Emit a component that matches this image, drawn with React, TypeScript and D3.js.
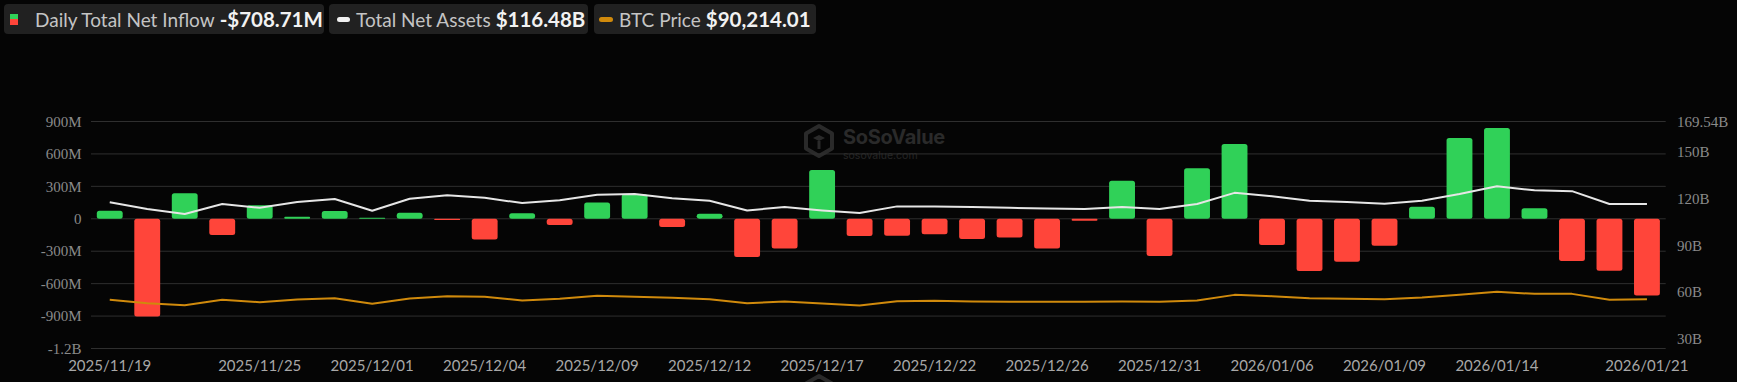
import React, { useEffect } from "react";
import * as d3 from "d3";

const dates = [
  "2025/11/19", "2025/11/20", "2025/11/21", "2025/11/24", "2025/11/25", "2025/11/26", "2025/11/28",
  "2025/12/01", "2025/12/02", "2025/12/03", "2025/12/04", "2025/12/05", "2025/12/08", "2025/12/09",
  "2025/12/10", "2025/12/11", "2025/12/12", "2025/12/15", "2025/12/16", "2025/12/17", "2025/12/18",
  "2025/12/19", "2025/12/22", "2025/12/23", "2025/12/24", "2025/12/26", "2025/12/29", "2025/12/30",
  "2025/12/31", "2026/01/02", "2026/01/05", "2026/01/06", "2026/01/07", "2026/01/08", "2026/01/09",
  "2026/01/12", "2026/01/13", "2026/01/14", "2026/01/15", "2026/01/16", "2026/01/20", "2026/01/21",
];

// Daily total net inflow, millions USD
const netInflow = [
  74, -903, 237, -151, 126, 18, 71, 9, 55, -12,
  -191, 52, -58, 151, 228, -77, 46, -354, -274, 452,
  -160, -157, -142, -188, -172, -274, -19, 351, -345, 468,
  692, -243, -483, -397, -249, 111, 748, 840, 98, -391,
  -480, -708.71,
];

// Total net assets, billions USD
const totalNetAssets = [
  117.6, 113.3, 110.1, 116.5, 114.1, 117.8, 119.7, 112.2, 119.9, 122.2,
  120.5, 117.1, 118.9, 122.5, 122.9, 120.3, 118.6, 112.4, 114.6, 112.4,
  110.7, 115.0, 115.0, 114.6, 114.1, 113.7, 113.3, 114.6, 113.3, 116.5,
  123.7, 121.5, 118.6, 117.8, 116.7, 118.6, 122.9, 128.0, 125.3, 124.8,
  116.5, 116.48,
];

// BTC price, USD
const btcPrice = [
  89560, 86470, 84610, 89560, 87410, 89840, 91150, 85820, 90770, 93020,
  92500, 88900, 90490, 93300, 92360, 91430, 90210, 86470, 87970, 86100,
  84230, 88350, 88620, 87970, 87690, 87690, 87690, 87970, 87690, 88900,
  94230, 93000, 91150, 90490, 90210, 91710, 94230, 97040, 95170, 95170,
  89560, 90214.01,
];

const xTickLabels = [
  "2025/11/19", "2025/11/25", "2025/12/01", "2025/12/04", "2025/12/09", "2025/12/12", "2025/12/17",
  "2025/12/22", "2025/12/26", "2025/12/31", "2026/01/06", "2026/01/09", "2026/01/14", "2026/01/21",
];

const leftTicks = [900, 600, 300, 0, -300, -600, -900, -1200];
const leftTickLabels = ["900M", "600M", "300M", "0", "-300M", "-600M", "-900M", "-1.2B"];
const rightTicks = [169.54, 150, 120, 90, 60, 30];
const rightTickLabels = ["169.54B", "150B", "120B", "90B", "60B", "30B"];

const legendItems = [
  { label: "Daily Total Net Inflow", value: "-$708.71M" },
  { label: "Total Net Assets", value: "$116.48B" },
  { label: "BTC Price", value: "$90,214.01" },
];

const W = 1737;
const H = 382;
const PLOT_L = 91;
const PLOT_R = 1665.7;
const PLOT_T = 121.5;
const PLOT_B = 348.5;

const GREEN = "#30d158";
const RED = "#ff453a";
const WHITE_LINE = "#e6e6e6";
const ORANGE = "#d08a0c";

function LogoMark({ dy }: { dy: number }) {
  const cx = 819;
  const cy = 141 + dy;
  const r = 15;
  const hex = d3.range(6).map((k) => {
    const a = (Math.PI / 3) * k - Math.PI / 2;
    return [cx + r * Math.cos(a), cy + r * Math.sin(a)];
  });
  return (
    <g>
      <polygon points={hex.map((p) => p.join(",")).join(" ")} fill="none" stroke="#2a2a2a" strokeWidth={4} strokeLinejoin="round" />
      <path d={`M${cx - 6},${cy - 3} L${cx},${cy - 6} L${cx + 6},${cy - 3} L${cx},${cy} Z`} fill="#2a2a2a" />
      <path d={`M${cx},${cy} L${cx},${cy + 8}`} stroke="#2a2a2a" strokeWidth={3} />
    </g>
  );
}

export default function App() {
  useEffect(() => {
    document.body.style.margin = "0";
    document.body.style.background = "#050505";
  }, []);

  const x = d3
    .scaleBand<string>()
    .domain(dates)
    .range([PLOT_L, PLOT_R])
    .paddingInner(0.31)
    .paddingOuter(0.155);
  const cxOf = (d: string) => (x(d) as number) + x.bandwidth() / 2;

  const yLeft = d3.scaleLinear().domain([-1200, 900]).range([PLOT_B, PLOT_T]);
  const yRight = d3.scaleLinear().domain([23.68, 169.54]).range([PLOT_B, PLOT_T]);
  const yBtc = d3.scaleLinear().domain([44000, 256600]).range([PLOT_B, PLOT_T]);

  const assetsLine = d3
    .line<number>()
    .x((_, i) => cxOf(dates[i]))
    .y((v) => yRight(v));
  const btcLine = d3
    .line<number>()
    .x((_, i) => cxOf(dates[i]))
    .y((v) => yBtc(v));

  const legendBoxes = [
    { x: 4, w: 320 },
    { x: 329, w: 259 },
    { x: 594, w: 222 },
  ];

  return (
    <svg width={W} height={H} style={{ display: "block", background: "#050505" }}>
      <rect x={0} y={0} width={W} height={H} fill="#050505" />

      {/* legend */}
      {legendItems.map((it, k) => {
        const b = legendBoxes[k];
        const textX = k === 0 ? 35 : k === 1 ? b.x + 27 : b.x + 25;
        return (
          <g key={it.label}>
            <rect x={b.x} y={4} width={b.w} height={30} rx={4} fill="#212121" />
            {k === 0 && (
              <g>
                <rect x={10} y={14} width={8} height={5} fill={GREEN} />
                <rect x={10} y={19} width={8} height={6} fill={RED} />
              </g>
            )}
            {k === 1 && <rect x={b.x + 8} y={17} width={13} height={5} rx={2.5} fill="#f0f0f0" />}
            {k === 2 && <rect x={b.x + 5} y={17} width={14} height={5} rx={2.5} fill={ORANGE} />}
            <text x={textX} y={26.5} fontFamily="Lato, sans-serif" fontSize={19} fill="#c4c4c4">
              {it.label}
              <tspan dx={5} fontWeight={700} fontSize={20.5} fill="#f2f2f2">
                {it.value}
              </tspan>
            </text>
          </g>
        );
      })}

      {/* watermarks */}
      <LogoMark dy={0} />
      <text x={843} y={144} fontFamily="Inter, 'Noto Sans', sans-serif" fontWeight={700} fontSize={20} fill="#2a2a2a" letterSpacing={-0.3}>
        SoSoValue
      </text>
      <text x={843} y={159} fontFamily="Inter, 'Noto Sans', sans-serif" fontSize={10.5} fill="#262626">
        sosovalue.com
      </text>
      <LogoMark dy={250} />

      {/* grid */}
      {leftTicks.map((t) => (
        <line key={t} x1={PLOT_L} x2={PLOT_R} y1={yLeft(t)} y2={yLeft(t)} stroke="#2f2f2f" strokeWidth={1} />
      ))}

      {/* left axis labels */}
      {leftTicks.map((t, i) => (
        <text
          key={"l" + t}
          x={81.5}
          y={yLeft(t)}
          dy="0.35em"
          textAnchor="end"
          fontFamily="'Liberation Serif', serif"
          fontSize={15}
          fill="#8a8a8a"
        >
          {leftTickLabels[i]}
        </text>
      ))}

      {/* right axis labels */}
      {rightTicks.map((t, i) => (
        <text
          key={"r" + t}
          x={1677}
          y={yRight(t)}
          dy="0.35em"
          textAnchor="start"
          fontFamily="'Liberation Serif', serif"
          fontSize={15}
          fill="#8a8a8a"
        >
          {rightTickLabels[i]}
        </text>
      ))}

      {/* bars */}
      {netInflow.map((v, i) => {
        const y0 = yLeft(0);
        const y1 = yLeft(v);
        const top = Math.min(y0, y1);
        const h = Math.max(1, Math.abs(y1 - y0));
        return (
          <rect
            key={dates[i]}
            x={x(dates[i])}
            y={top}
            width={x.bandwidth()}
            height={h}
            rx={Math.min(2.5, h / 2)}
            fill={v >= 0 ? GREEN : RED}
          />
        );
      })}

      {/* lines */}
      <path d={btcLine(btcPrice) || ""} fill="none" stroke={ORANGE} strokeWidth={2} strokeLinejoin="round" />
      <path d={assetsLine(totalNetAssets) || ""} fill="none" stroke={WHITE_LINE} strokeWidth={2} strokeLinejoin="round" />

      {/* x axis labels */}
      {xTickLabels.map((d) => (
        <text
          key={"x" + d}
          x={cxOf(d)}
          y={371}
          textAnchor="middle"
          fontFamily="Lato, sans-serif"
          fontSize={15}
          fill="#a8a8a8"
        >
          {d}
        </text>
      ))}
    </svg>
  );
}
